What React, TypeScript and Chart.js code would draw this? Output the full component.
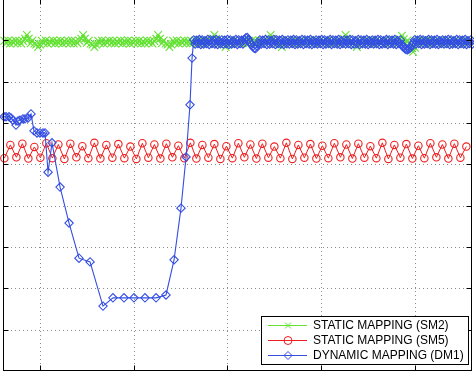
import React, { useEffect, useRef } from 'react';
import { Chart, registerables } from 'chart.js';

Chart.register(...registerables);

// ---------- data ----------
const SERIES_LABELS = ['STATIC MAPPING (SM2)', 'STATIC MAPPING (SM5)', 'DYNAMIC MAPPING (DM1)'];
const SERIES_COLORS = ['rgb(100,226,52)', 'rgb(240,30,30)', 'rgb(52,78,226)'];

const X_MIN = 30.27;
const X_MAX = 280.4;
const Y_MIN = 0;
const Y_MAX = 9;
const X_TICKS = [50, 100, 150, 200, 250];
const Y_TICKS = [1, 2, 3, 4, 5, 6, 7, 8];

// SM2: sampled every time unit from t = 31
const SM2_START = 31;
const SM2_STEP = 1;
const SM2_VALUES = [
  7.99, 7.93, 8.00, 7.92, 7.98, 7.94, 8.00, 7.93, 7.99, 7.92,
  7.98, 8.04, 8.13, 8.04, 7.93, 8.00, 7.92, 7.90, 7.84, 7.90,
  7.99, 7.93, 8.00, 7.92, 7.98, 7.94, 8.00, 7.92, 7.99, 7.93,
  8.00, 7.92, 7.98, 7.94, 7.99, 7.93, 8.00, 7.92, 7.98, 7.93,
  7.99, 8.04, 8.13, 8.04, 7.94, 7.99, 7.92, 7.90, 7.84, 7.90,
  7.99, 7.93, 8.00, 7.92, 7.98, 7.94, 8.00, 7.93, 7.99, 7.92,
  7.98, 7.94, 8.00, 7.92, 7.99, 7.93, 8.00, 7.92, 7.98, 7.94,
  7.99, 7.93, 8.00, 7.92, 7.98, 7.93, 8.00, 7.94, 7.99, 7.92,
  7.98, 8.04, 8.13, 8.04, 7.93, 8.00, 7.92, 7.90, 7.84, 7.90,
  7.99, 7.93, 8.00, 7.92, 7.98, 7.94, 8.00, 7.93, 7.99, 7.92,
  7.98, 7.94, 8.00, 7.92, 7.99, 7.93, 8.00, 7.92, 7.98, 7.94,
  7.99, 8.04, 8.13, 8.04, 7.93, 8.00, 7.92, 7.90, 7.84, 7.90,
  7.99, 7.93, 8.00, 7.92, 7.98, 7.94, 8.00, 7.93, 7.99, 7.92,
  7.98, 7.94, 8.00, 7.92, 7.99, 7.93, 8.00, 7.92, 7.98, 7.94,
  7.99, 8.04, 8.13, 8.04, 7.93, 8.00, 7.92, 7.90, 7.84, 7.90,
  7.99, 7.93, 8.00, 7.92, 7.98, 7.94, 8.00, 7.93, 7.99, 7.92,
  7.98, 7.94, 8.00, 7.92, 7.99, 7.93, 8.00, 7.92, 7.98, 7.94,
  7.99, 7.93, 8.00, 7.92, 7.98, 7.93, 8.00, 7.94, 7.99, 7.92,
  7.98, 8.04, 8.13, 8.04, 7.93, 8.00, 7.92, 7.90, 7.84, 7.90,
  7.99, 7.93, 8.00, 7.92, 7.98, 7.94, 8.00, 7.93, 7.99, 7.92,
  7.98, 7.94, 8.00, 7.92, 7.99, 7.93, 8.00, 7.92, 7.98, 7.94,
  7.99, 8.03, 8.11, 8.03, 7.93, 8.00, 7.92, 7.82, 7.72, 7.82,
  7.99, 7.93, 8.00, 7.92, 7.98, 7.94, 8.00, 7.93, 7.99, 7.92,
  7.98, 7.94, 8.00, 7.92, 7.99, 7.93, 8.00, 7.92, 7.98, 7.94,
  7.99, 7.93, 8.00, 7.92, 7.98, 7.94, 8.00, 7.93, 7.99,
];

// SM5: sampled every 3.2 time units from t = 31
const SM5_START = 31;
const SM5_STEP = 3.2;
const SM5_VALUES = [
  5.15, 5.47, 5.17, 5.50, 5.14, 5.42, 5.16, 5.51, 5.15, 5.48,
  5.13, 5.50, 5.17, 5.44, 5.15, 5.52, 5.14, 5.47, 5.16, 5.49,
  5.15, 5.43, 5.13, 5.51, 5.16, 5.48, 5.14, 5.50, 5.17, 5.45,
  5.15, 5.52, 5.14, 5.47, 5.16, 5.49, 5.13, 5.44, 5.15, 5.51,
  5.17, 5.48, 5.14, 5.50, 5.16, 5.43, 5.15, 5.52, 5.13, 5.47,
  5.16, 5.49, 5.14, 5.45, 5.15, 5.51, 5.17, 5.48, 5.14, 5.50,
  5.16, 5.44, 5.15, 5.52, 5.13, 5.47, 5.16, 5.49, 5.14, 5.45,
  5.15, 5.51, 5.17, 5.48, 5.14, 5.50, 5.16, 5.43,
];

// DM1: irregular samples at the start, then regular samples
const DM1_HEAD_T = [
  30.8, 31.9, 33.5, 34.5, 35.6, 37.2, 38.3, 39.3, 40.9, 42.0,
  43.6, 45.2, 46.8, 48.4, 50.0, 51.6, 52.7, 54.3, 56.4, 60.7,
  65.5, 70.8, 76.7, 83.6, 88.9, 94.8, 100.1, 106.0, 111.9, 117.2,
  121.5, 125.2, 127.9, 130.0, 131.1,
];
const DM1_HEAD_V = [
  6.15, 6.15, 6.15, 6.12, 6.07, 5.95, 6.05, 6.07, 6.10, 6.10,
  6.12, 6.22, 5.81, 5.76, 5.76, 5.76, 5.76, 4.81, 5.52, 4.45,
  3.58, 2.73, 2.64, 1.57, 1.77, 1.77, 1.77, 1.77, 1.77, 1.84,
  2.69, 3.94, 5.18, 6.44, 7.57,
];
const DM1_TAIL_START = 132;
const DM1_TAIL_STEP = 0.75;
const DM1_TAIL_V = [
  8.01, 7.91, 8.00, 7.92, 8.02, 7.90, 8.01, 7.91, 7.99, 7.92,
  8.02, 7.90, 8.01, 7.92, 8.00, 7.91, 8.02, 7.90, 7.99, 7.92,
  8.01, 7.91, 8.00, 7.92, 8.02, 7.90, 8.01, 7.91, 7.99, 7.92,
  8.02, 7.90, 8.01, 7.92, 8.00, 7.91, 8.02, 8.06, 8.07, 8.02,
  7.96, 7.90, 7.85, 7.81, 7.80, 7.86, 7.93, 8.01, 7.91, 8.00,
  7.92, 8.02, 7.90, 8.01, 7.91, 7.99, 7.92, 8.02, 7.90, 8.01,
  7.92, 8.00, 7.91, 8.02, 7.90, 7.99, 7.92, 8.01, 7.91, 8.00,
  7.92, 8.02, 7.90, 8.01, 7.91, 7.99, 7.92, 8.02, 7.90, 8.01,
  7.92, 8.00, 7.91, 8.02, 7.90, 7.99, 7.92, 8.01, 7.91, 8.00,
  7.92, 8.02, 7.90, 8.01, 7.91, 7.99, 7.92, 8.02, 7.90, 8.01,
  7.92, 8.00, 7.91, 8.02, 7.90, 7.99, 7.92, 8.01, 7.91, 8.00,
  7.92, 8.02, 7.90, 8.01, 7.91, 7.99, 7.92, 8.02, 7.90, 8.01,
  7.92, 8.00, 7.91, 8.02, 7.90, 7.99, 7.92, 8.01, 7.91, 8.00,
  7.92, 8.02, 7.90, 8.01, 7.91, 7.99, 7.92, 8.02, 7.90, 8.01,
  7.92, 8.00, 7.91, 8.02, 7.90, 7.99, 7.92, 8.01, 7.90, 7.84,
  7.80, 7.78, 7.77, 7.79, 7.82, 7.88, 7.94, 8.01, 7.91, 8.00,
  7.92, 8.02, 7.90, 8.01, 7.91, 7.99, 7.92, 8.02, 7.90, 8.01,
  7.92, 8.00, 7.91, 8.02, 7.90, 7.99, 7.92, 8.01, 7.91, 8.00,
  7.92, 8.02, 7.90, 8.01, 7.91, 7.99, 7.92, 8.02, 7.90, 8.01,
  7.92, 8.00, 7.91, 8.02, 7.90, 7.99, 7.92, 8.01, 7.91,
];

// ---------- helpers ----------
const regular = (start: number, step: number, vals: number[]) =>
  vals.map((v, i) => ({ x: start + i * step, y: v }));

const MARKERS = ['cross', 'circle', 'diamond'];

function drawMarker(ctx: CanvasRenderingContext2D, kind: string, x: number, y: number, r: number) {
  ctx.beginPath();
  if (kind === 'cross') {
    ctx.moveTo(x - r, y - r); ctx.lineTo(x + r, y + r);
    ctx.moveTo(x - r, y + r); ctx.lineTo(x + r, y - r);
  } else if (kind === 'circle') {
    ctx.arc(x, y, r, 0, Math.PI * 2);
  } else {
    ctx.moveTo(x, y - r); ctx.lineTo(x + r, y); ctx.lineTo(x, y + r); ctx.lineTo(x - r, y); ctx.closePath();
  }
  ctx.stroke();
}

const framePlugin = {
  id: 'matlabFrame',
  beforeDatasetsDraw(chart: any) {
    const { ctx, chartArea: a, scales } = chart;
    const xs = scales.x, ys = scales.y;
    ctx.save();
    ctx.strokeStyle = '#8c8c8c';
    ctx.lineWidth = 1;
    ctx.setLineDash([1, 3]);
    X_TICKS.forEach((v) => {
      const px = Math.round(xs.getPixelForValue(v)) + 0.5;
      ctx.beginPath(); ctx.moveTo(px, a.top); ctx.lineTo(px, a.bottom); ctx.stroke();
    });
    Y_TICKS.forEach((v) => {
      const py = Math.round(ys.getPixelForValue(v)) + 0.5;
      ctx.beginPath(); ctx.moveTo(a.left, py); ctx.lineTo(a.right, py); ctx.stroke();
    });
    ctx.restore();
  },
  afterDatasetsDraw(chart: any) {
    const { ctx, chartArea: a, scales } = chart;
    const xs = scales.x, ys = scales.y;
    const L = Math.round(a.left) + 0.5, R = Math.round(a.right) - 0.5;
    const T = Math.round(a.top) + 0.5, B = Math.round(a.bottom) - 0.5;
    ctx.save();
    ctx.strokeStyle = '#000';
    ctx.lineWidth = 1;
    ctx.setLineDash([]);
    ctx.strokeRect(L, T, R - L, B - T);
    const tl = 5;
    ctx.beginPath();
    X_TICKS.forEach((v) => {
      const px = Math.round(xs.getPixelForValue(v)) + 0.5;
      ctx.moveTo(px, B); ctx.lineTo(px, B - tl);
      ctx.moveTo(px, T); ctx.lineTo(px, T + tl);
    });
    Y_TICKS.forEach((v) => {
      const py = Math.round(ys.getPixelForValue(v)) + 0.5;
      ctx.moveTo(L, py); ctx.lineTo(L + tl, py);
      ctx.moveTo(R, py); ctx.lineTo(R - tl, py);
    });
    ctx.stroke();
    ctx.restore();
  },
  afterDraw(chart: any) {
    const { ctx, chartArea: a } = chart;
    const bw = 207, bh = 48;
    const bx = Math.round(a.right - 4 - bw);
    const by = Math.round(a.bottom - 7 - bh);
    ctx.save();
    ctx.fillStyle = '#fff';
    ctx.fillRect(bx, by, bw, bh);
    ctx.strokeStyle = '#000';
    ctx.lineWidth = 1;
    ctx.strokeRect(bx + 0.5, by + 0.5, bw, bh);
    ctx.font = '12px "Liberation Sans", Arial, sans-serif';
    ctx.textBaseline = 'middle';
    ctx.textAlign = 'left';
    chart.data.datasets.forEach((ds: any, i: number) => {
      const cy = by + 9.5 + i * 15;
      ctx.strokeStyle = ds.borderColor;
      ctx.lineWidth = 1;
      ctx.beginPath(); ctx.moveTo(bx + 7, cy); ctx.lineTo(bx + 46, cy); ctx.stroke();
      drawMarker(ctx, MARKERS[i], bx + 27, cy, i === 0 ? 3 : 4);
      ctx.fillStyle = '#000';
      ctx.fillText(ds.label, bx + 52, cy + 0.5);
    });
    ctx.restore();
  },
};

export default function App() {
  const ref = useRef<HTMLCanvasElement | null>(null);

  useEffect(() => {
    if (!ref.current) return;
    const dm1 = DM1_HEAD_T.map((t, i) => ({ x: t, y: DM1_HEAD_V[i] })).concat(
      regular(DM1_TAIL_START, DM1_TAIL_STEP, DM1_TAIL_V)
    );
    const chart = new Chart(ref.current, {
      type: 'line',
      data: {
        datasets: [
          {
            label: SERIES_LABELS[0],
            data: regular(SM2_START, SM2_STEP, SM2_VALUES),
            borderColor: SERIES_COLORS[0],
            backgroundColor: SERIES_COLORS[0],
            borderWidth: 1.2,
            pointStyle: 'crossRot',
            pointRadius: 5.4,
            pointBorderWidth: 1.1,
            pointBorderColor: SERIES_COLORS[0],
            pointBackgroundColor: 'rgba(0,0,0,0)',
            fill: false,
            order: 3,
            clip: 6,
          },
          {
            label: SERIES_LABELS[1],
            data: regular(SM5_START, SM5_STEP, SM5_VALUES),
            borderColor: SERIES_COLORS[1],
            backgroundColor: SERIES_COLORS[1],
            borderWidth: 1,
            pointStyle: 'circle',
            pointRadius: 3.7,
            pointBorderWidth: 1.1,
            pointBorderColor: SERIES_COLORS[1],
            pointBackgroundColor: 'rgba(0,0,0,0)',
            fill: false,
            order: 2,
            clip: 6,
          },
          {
            label: SERIES_LABELS[2],
            data: dm1,
            borderColor: SERIES_COLORS[2],
            backgroundColor: SERIES_COLORS[2],
            borderWidth: 1.1,
            pointStyle: 'rectRot',
            pointRadius: 4.2,
            pointBorderWidth: 1.1,
            pointBorderColor: SERIES_COLORS[2],
            pointBackgroundColor: 'rgba(0,0,0,0)',
            fill: false,
            order: 1,
            clip: 6,
          },
        ],
      } as any,
      options: {
        animation: false,
        responsive: false,
        maintainAspectRatio: false,
        events: [],
        layout: { autoPadding: false, padding: { left: 3, right: 2, top: 3, bottom: 5 } },
        plugins: { legend: { display: false }, tooltip: { enabled: false } },
        scales: {
          x: {
            type: 'linear',
            min: X_MIN,
            max: X_MAX,
            grid: { display: false, drawTicks: false },
            border: { display: false },
            ticks: { display: false },
          },
          y: {
            type: 'linear',
            min: Y_MIN,
            max: Y_MAX,
            grid: { display: false, drawTicks: false },
            border: { display: false },
            ticks: { display: false, stepSize: 1 },
          },
        },
      } as any,
      plugins: [framePlugin],
    });
    return () => chart.destroy();
  }, []);

  return (
    <div style={{ position: 'fixed', left: 0, top: -4, width: 474, height: 380, background: '#fff' }}>
      <canvas ref={ref} width={474} height={380} style={{ display: 'block', width: 474, height: 380 }} />
    </div>
  );
}
